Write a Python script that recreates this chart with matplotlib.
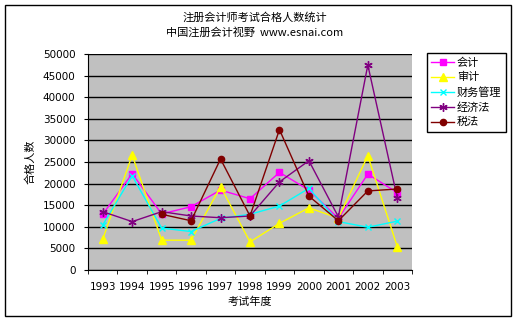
import matplotlib
matplotlib.use("Agg")
import matplotlib.pyplot as plt
from matplotlib.patches import Rectangle
import numpy as np

plt.rcParams['font.family'] = ['Noto Sans CJK SC', 'DejaVu Sans']

years = ["1993", "1994", "1995", "1996", "1997", "1998", "1999", "2000", "2001", "2002", "2003"]
kuaiji = [12900, 22300, 13000, 14650, 18500, 16500, 22600, 18500, 11950, 22200, 17900]
shenji = [7100, 26600, 6900, 6900, 19300, 6500, 10800, 14400, 12000, 26450, 5400]
caiwu = [10400, 21800, 9700, 8900, 11950, 12900, 14800, 18900, 11200, 9900, 11300]
jingji = [13500, 11200, 13500, 12500, 12100, 12500, 20400, 25300, 12300, 47450, 16700]
shuifa = [None, None, 12900, 11400, 25700, 12500, 32500, 17100, 11400, 18300, 18750]

series = [
    ("会计", kuaiji, "#FF00FF", "s", 5),
    ("审计", shenji, "#FFFF00", "^", 5.5),
    ("财务管理", caiwu, "#00FFFF", "x", 4.5),
    ("经济法", jingji, "#800080", (6, 2, 0), 6),
    ("税法", shuifa, "#800000", "o", 4.5),
]

W, H = 518, 323
fig = plt.figure(figsize=(W / 100, H / 100), dpi=100)
fig.patch.set_facecolor("white")

# outer chart border
fig.patches.append(Rectangle((5 / W, 1 - 316 / H), 506 / W, 311 / H, transform=fig.transFigure,
                             fill=False, edgecolor="black", linewidth=1.0))

ax = fig.add_axes([88 / W, 1 - 270 / H, 324 / W, 216 / H])
ax.set_facecolor("#C0C0C0")

x = np.arange(len(years))
for name, vals, color, marker, ms in series:
    xs = [xi for xi, v in zip(x, vals) if v is not None]
    ys = [v for v in vals if v is not None]
    ax.plot(xs, ys, color=color, marker=marker, markersize=ms, linewidth=1.0,
            markeredgecolor=color, markeredgewidth=1.0, label=name)

ax.set_xlim(-0.5, len(years) - 0.5)
ax.set_ylim(0, 50000)
ax.set_yticks(np.arange(0, 50001, 5000))
ax.set_yticklabels([str(v) for v in range(0, 50001, 5000)], fontsize=7.5,
                   family=['DejaVu Sans'])
ax.yaxis.grid(True, color="black", linewidth=1.0)
ax.set_axisbelow(True)

ax.set_xticks(x)
ax.set_xticklabels(years, fontsize=7.5, family=['DejaVu Sans'])
ax.set_xticks(np.arange(-0.5, len(years), 1), minor=True)
ax.tick_params(axis="x", which="major", length=0, pad=9)
ax.tick_params(axis="x", which="minor", length=3, direction="out")
ax.tick_params(axis="y", which="major", length=3, direction="out", pad=6)

for s in ["top", "right"]:
    ax.spines[s].set_visible(False)
ax.spines["left"].set_color("black")
ax.spines["bottom"].set_color("black")

fig.text(255 / W, 1 - 17 / H, "注册会计师考试合格人数统计", ha="center", va="center", fontsize=8)
fig.text(255 / W, 1 - 32 / H, "中国注册会计视野  www.esnai.com", ha="center", va="center", fontsize=8)
fig.text(250 / W, 1 - 302 / H, "考试年度", ha="center", va="center", fontsize=8)
fig.text(30 / W, 1 - 162 / H, "合格人数", ha="center", va="center", fontsize=8, rotation=90)

leg = fig.legend(loc="upper left", bbox_to_anchor=(427 / W, 1 - 53 / H), fontsize=8,
                 frameon=True, fancybox=False, edgecolor="black", framealpha=1,
                 handlelength=2.0, borderpad=0.4, labelspacing=0.4, handletextpad=0.3,
                 borderaxespad=0)
leg.get_frame().set_linewidth(1.0)

fig.savefig("out.png", dpi=100)
